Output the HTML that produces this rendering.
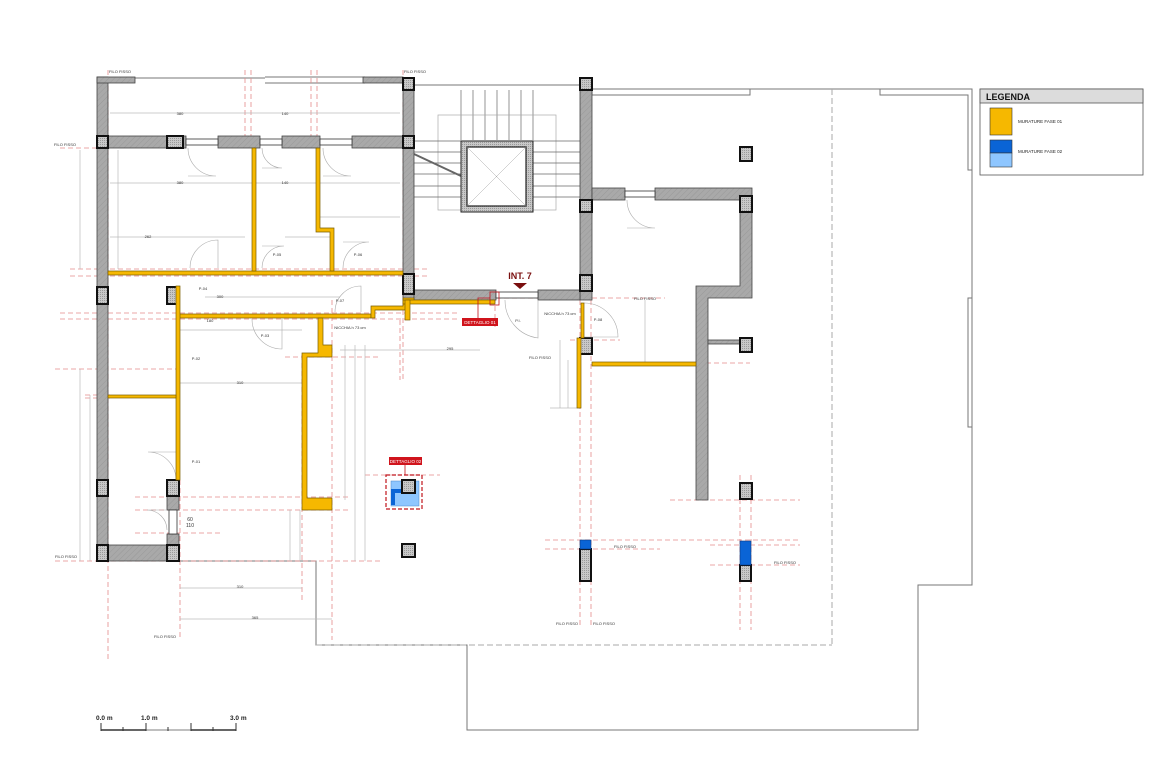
<!DOCTYPE html>
<html><head><meta charset="utf-8"><style>
html,body{margin:0;padding:0;background:#fff;}
svg{display:block;font-family:"Liberation Sans",sans-serif;}
</style></head><body>
<svg width="1166" height="768" viewBox="0 0 1166 768" xmlns="http://www.w3.org/2000/svg">
<defs>
<pattern id="h" width="4" height="4" patternUnits="userSpaceOnUse" patternTransform="rotate(45)"><rect width="4" height="4" fill="#a9a9a9"/><line x1="0" y1="0" x2="0" y2="4" stroke="#999" stroke-width="1"/></pattern>
<pattern id="p" width="2" height="2" patternUnits="userSpaceOnUse"><rect width="2" height="2" fill="#c8c8c8"/><rect width="1" height="1" fill="#9a9a9a"/></pattern>
</defs>

<!-- building outline -->
<g fill="none" stroke="#777" stroke-width="1">
<polyline points="590,89 972,89 972,585 918,585 918,730 467,730 467,645 316,645 316,561 180,561"/>
<polyline points="592,89 592,95 750,95 750,89"/>
<polyline points="880,89 880,95 968,95 968,170 972,170"/>
<polyline points="972,298 968,298 968,427 972,427"/>
<line x1="265" y1="77" x2="365" y2="77"/><line x1="265" y1="83" x2="365" y2="83"/>
<line x1="135" y1="78" x2="265" y2="78"/>
<line x1="414" y1="85" x2="580" y2="85"/>
</g>
<g fill="none" stroke="#aaa" stroke-width="1" stroke-dasharray="6,3">
<line x1="832" y1="89" x2="832" y2="645"/>
<line x1="316" y1="645" x2="832" y2="645"/>
</g>

<!-- red dashed construction lines -->
<g stroke="#e58a8a" stroke-width="0.8" stroke-dasharray="5,3" fill="none">
<line x1="108" y1="70" x2="108" y2="660"/>
<line x1="180" y1="480" x2="180" y2="640"/>
<line x1="245" y1="70" x2="245" y2="140"/><line x1="251" y1="70" x2="251" y2="140"/>
<line x1="311" y1="70" x2="311" y2="140"/><line x1="317" y1="70" x2="317" y2="140"/>
<line x1="403" y1="70" x2="403" y2="380"/>
<line x1="60" y1="148" x2="110" y2="148"/>
<line x1="70" y1="269" x2="430" y2="269"/><line x1="70" y1="276" x2="430" y2="276"/>
<line x1="60" y1="313" x2="460" y2="313"/><line x1="60" y1="319" x2="460" y2="319"/>
<line x1="55" y1="369" x2="180" y2="369"/>
<line x1="85" y1="395" x2="110" y2="395"/><line x1="85" y1="398" x2="110" y2="398"/>
<line x1="135" y1="497" x2="350" y2="497"/><line x1="135" y1="510" x2="350" y2="510"/><line x1="135" y1="533" x2="220" y2="533"/>
<line x1="55" y1="561" x2="380" y2="561"/>
<line x1="285" y1="357" x2="380" y2="357"/>
<line x1="302" y1="355" x2="302" y2="600"/>
<line x1="332" y1="300" x2="332" y2="640"/>
<line x1="400" y1="320" x2="400" y2="380"/>
<line x1="495" y1="290" x2="495" y2="330"/>
<line x1="480" y1="298" x2="665" y2="298"/>
<line x1="570" y1="340" x2="620" y2="340"/>
<line x1="580" y1="300" x2="580" y2="625"/><line x1="591" y1="300" x2="591" y2="625"/>
<line x1="545" y1="540" x2="800" y2="540"/><line x1="545" y1="549" x2="660" y2="549"/>
<line x1="710" y1="545" x2="800" y2="545"/><line x1="710" y1="565" x2="800" y2="565"/>
<line x1="740" y1="475" x2="740" y2="630"/><line x1="751" y1="475" x2="751" y2="630"/>
<line x1="670" y1="500" x2="800" y2="500"/>
<line x1="690" y1="363" x2="750" y2="363"/>
<line x1="365" y1="475" x2="440" y2="475"/>
</g>

<!-- thin gray dimension lines -->
<g stroke="#bbb" stroke-width="0.7" fill="none">
<line x1="110" y1="113" x2="400" y2="113"/>
<line x1="110" y1="183" x2="400" y2="183"/>
<line x1="110" y1="237" x2="245" y2="237"/>
<line x1="80" y1="150" x2="80" y2="269"/>
<line x1="80" y1="369" x2="80" y2="561"/>
<line x1="118" y1="150" x2="118" y2="269"/>
<line x1="90" y1="395" x2="90" y2="561"/>
<line x1="180" y1="330" x2="302" y2="330"/>
<line x1="180" y1="383" x2="302" y2="383"/>
<line x1="180" y1="588" x2="302" y2="588"/>
<line x1="180" y1="619" x2="332" y2="619"/>
<line x1="290" y1="510" x2="290" y2="561"/><line x1="300" y1="510" x2="300" y2="561"/>
<line x1="345" y1="345" x2="345" y2="500"/><line x1="355" y1="345" x2="355" y2="561"/><line x1="365" y1="345" x2="365" y2="561"/>
<line x1="340" y1="350" x2="480" y2="350"/>
<line x1="645" y1="300" x2="645" y2="362"/>
<line x1="560" y1="340" x2="560" y2="408"/><line x1="568" y1="360" x2="568" y2="408"/>
<line x1="550" y1="408" x2="580" y2="408"/>
<line x1="320" y1="217" x2="400" y2="217"/>
<line x1="285" y1="237" x2="330" y2="237"/>
<line x1="205" y1="297" x2="340" y2="297"/>
</g>

<!-- stairs -->
<g stroke="#666" stroke-width="0.7" fill="none">
<line x1="461" y1="90" x2="461" y2="140"/><line x1="473" y1="90" x2="473" y2="140"/><line x1="485" y1="90" x2="485" y2="140"/><line x1="497" y1="90" x2="497" y2="140"/><line x1="509" y1="90" x2="509" y2="140"/><line x1="521" y1="90" x2="521" y2="140"/><line x1="533" y1="90" x2="533" y2="140"/>
<rect x="438" y="115" width="118" height="95" stroke="#aaa"/>
<line x1="414" y1="141" x2="461" y2="141"/><line x1="414" y1="152" x2="461" y2="152"/><line x1="414" y1="163" x2="461" y2="163"/><line x1="414" y1="174" x2="461" y2="174"/><line x1="414" y1="186" x2="461" y2="186"/><line x1="414" y1="197" x2="461" y2="197"/>
<line x1="533" y1="141" x2="580" y2="141"/><line x1="533" y1="152" x2="580" y2="152"/><line x1="533" y1="163" x2="580" y2="163"/><line x1="533" y1="174" x2="580" y2="174"/><line x1="533" y1="186" x2="580" y2="186"/><line x1="533" y1="197" x2="580" y2="197"/>
<line x1="414" y1="154" x2="461" y2="176" stroke-width="2"/>
</g>
<rect x="461" y="141" width="72" height="71" fill="url(#p)" stroke="#222" stroke-width="1"/>
<rect x="467" y="147" width="59" height="59" fill="#fff" stroke="#222" stroke-width="1.2"/>
<line x1="467" y1="147" x2="526" y2="206" stroke="#aaa" stroke-width="0.5"/><line x1="526" y1="147" x2="467" y2="206" stroke="#aaa" stroke-width="0.5"/>

<!-- gray walls -->
<g fill="url(#h)" stroke="#444" stroke-width="0.8">
<rect x="97" y="77" width="11" height="484"/>
<rect x="97" y="77" width="38" height="6"/>
<rect x="363" y="77" width="40" height="6"/>
<rect x="108" y="136" width="78" height="12"/>
<rect x="218" y="136" width="42" height="12"/>
<rect x="282" y="136" width="38" height="12"/>
<rect x="352" y="136" width="51" height="12"/>
<rect x="403" y="78" width="11" height="222"/>
<rect x="580" y="78" width="12" height="222"/>
<rect x="414" y="290" width="82" height="10"/>
<rect x="538" y="290" width="42" height="10"/>
<rect x="592" y="188" width="33" height="12"/>
<rect x="655" y="188" width="97" height="12"/>
<polygon points="740,200 752,200 752,298 708,298 708,500 696,500 696,286 740,286"/>
<rect x="708" y="340" width="32" height="4"/>
<rect x="108" y="545" width="59" height="16"/>
<rect x="167" y="496" width="12" height="14"/>
<rect x="167" y="534" width="12" height="11"/>
</g>

<!-- pillars -->
<g fill="url(#p)" stroke="#111" stroke-width="2">
<rect x="97" y="136" width="11" height="12"/>
<rect x="167" y="136" width="16" height="12"/>
<rect x="403" y="78" width="11" height="12"/>
<rect x="403" y="136" width="11" height="12"/>
<rect x="403" y="274" width="11" height="20"/>
<rect x="97" y="287" width="11" height="17"/>
<rect x="167" y="287" width="12" height="17"/>
<rect x="97" y="480" width="11" height="16"/>
<rect x="167" y="480" width="12" height="16"/>
<rect x="97" y="545" width="11" height="16"/>
<rect x="167" y="545" width="12" height="16"/>
<rect x="580" y="78" width="12" height="12"/>
<rect x="580" y="200" width="12" height="12"/>
<rect x="580" y="275" width="12" height="16"/>
<rect x="740" y="147" width="12" height="14"/>
<rect x="740" y="196" width="12" height="16"/>
<rect x="740" y="338" width="12" height="14"/>
<rect x="740" y="483" width="12" height="16"/>
<rect x="580" y="338" width="12" height="16"/>
<rect x="402" y="544" width="13" height="13"/>
<rect x="580" y="549" width="11" height="32"/>
<rect x="740" y="565" width="11" height="16"/>
</g>

<!-- windows -->
<g fill="#fff" stroke="#333" stroke-width="0.8">
<rect x="186" y="139" width="32" height="6"/><rect x="260" y="139" width="22" height="6"/><rect x="320" y="139" width="32" height="6"/>
<rect x="625" y="191" width="30" height="6"/><rect x="496" y="292" width="42" height="6"/>
<rect x="169" y="510" width="8" height="24"/>
</g>
<!-- door arcs -->
<g fill="none" stroke="#aaa" stroke-width="0.6">
<path d="M188,148 A28,28 0 0 0 216,176 L188,176"/><path d="M262,148 A20,20 0 0 0 282,168 L262,168"/><path d="M323,148 A28,28 0 0 0 351,176 L323,176"/>
<path d="M190,268 A28,28 0 0 1 218,240 L218,268"/><path d="M262,268 A22,22 0 0 1 284,246 L262,246"/><path d="M343,268 A26,26 0 0 1 369,242 L343,242"/>
<path d="M252,319 A30,30 0 0 0 282,349 L282,319"/><path d="M335,312 A26,26 0 0 1 361,286 L361,312"/>
<path d="M176,480 A28,28 0 0 0 148,452 L176,452"/><path d="M167,530 A20,20 0 0 0 147,510 L167,510"/>
<path d="M505,300 A38,38 0 0 0 538,338 L538,300"/><path d="M584,303 A34,34 0 0 1 618,337 L584,337"/>
<path d="M627,200 A28,28 0 0 0 655,228 L627,228"/>
</g>

<!-- yellow walls -->
<g fill="#f6b800" stroke="#7a5c00" stroke-width="0.7">
<rect x="108" y="271" width="295" height="4"/>
<rect x="252" y="148" width="4" height="123"/>
<polygon points="316,148 320,148 320,228 334,228 334,271 330,271 330,232 316,232"/>
<rect x="178" y="314" width="193" height="4"/>
<polygon points="371,318 371,306 403,306 403,298 414,298 414,300 407,300 407,310 375,310 375,318"/>
<rect x="403" y="300" width="92" height="4"/>
<rect x="405" y="300" width="5" height="20"/>
<rect x="176" y="286" width="4" height="194"/>
<rect x="108" y="395" width="68" height="3"/>
<polygon points="318,318 323,318 323,345 332,345 332,357 307,357 307,498 332,498 332,510 302,510 302,353 318,353"/>
<rect x="592" y="362" width="104" height="4"/>
<rect x="577" y="338" width="4" height="70"/>
<rect x="581" y="303" width="3" height="35"/>
</g>

<!-- blue -->
<rect x="580" y="540" width="11" height="9" fill="#0a64d6" stroke="#0a3a80" stroke-width="0.6"/>
<rect x="740" y="541" width="11" height="24" fill="#0a64d6" stroke="#0a3a80" stroke-width="0.6"/>
<rect x="386" y="475" width="36" height="34" fill="none" stroke="#c0141c" stroke-width="1.2" stroke-dasharray="4,2"/>
<rect x="391" y="481" width="28" height="25" fill="#8ec6ff" stroke="#4a84c8" stroke-width="0.5"/>
<polygon points="391,489 402,489 402,493 395,493 395,505 391,505" fill="#0a64d6"/>
<rect x="402" y="480" width="13" height="13" fill="url(#p)" stroke="#111" stroke-width="2"/>
<line x1="405" y1="464" x2="405" y2="475" stroke="#c0141c" stroke-width="0.8"/>
<rect x="389" y="457" width="33" height="8" fill="#d0141c"/>
<text x="405.5" y="463" font-size="4.5" fill="#fff" text-anchor="middle">DETTAGLIO 02</text>

<!-- detail 01 -->
<rect x="490" y="292" width="9" height="13" fill="none" stroke="#c0141c" stroke-width="0.8"/>
<polyline points="490,298 478,298 478,318" fill="none" stroke="#c0141c" stroke-width="0.8"/>
<rect x="462" y="318" width="36" height="8" fill="#d0141c"/>
<text x="480" y="324" font-size="4.5" fill="#fff" text-anchor="middle">DETTAGLIO 01</text>

<!-- INT 7 -->
<text x="520" y="279" font-size="9" font-weight="bold" fill="#7a0f0f" text-anchor="middle">INT. 7</text>
<polygon points="513,283 527,283 520,289" fill="#7a0f0f"/>

<!-- small labels -->
<g font-size="4" fill="#333" text-anchor="middle">
<text x="120" y="73">FILO FISSO</text><text x="415" y="73">FILO FISSO</text>
<text x="65" y="146">FILO FISSO</text><text x="66" y="558">FILO FISSO</text>
<text x="165" y="638">FILO FISSO</text><text x="645" y="300">FILO FISSO</text>
<text x="540" y="359">FILO FISSO</text><text x="567" y="625">FILO FISSO</text><text x="604" y="625">FILO FISSO</text>
<text x="625" y="548">FILO FISSO</text><text x="785" y="564">FILO FISSO</text>
<text x="560" y="315">NICCHIA h 73 cm</text><text x="350" y="329">NICCHIA h 73 cm</text>
<text x="180" y="115">380</text><text x="285" y="115">140</text><text x="180" y="184">380</text><text x="285" y="184">140</text><text x="148" y="238">262</text>
<text x="240" y="588">310</text><text x="255" y="619">365</text><text x="240" y="384">310</text><text x="450" y="350">295</text><text x="220" y="298">300</text><text x="210" y="322">180</text>
<text x="277" y="256">P-05</text><text x="358" y="256">P-06</text><text x="203" y="290">P-04</text><text x="265" y="337">P-03</text><text x="340" y="302">P-07</text><text x="196" y="360">P-02</text><text x="196" y="463">P-01</text><text x="518" y="322">P.I.</text><text x="598" y="321">P-08</text>
</g>
<g font-size="5" fill="#333" text-anchor="middle">
<text x="190" y="521">60</text><text x="190" y="527">110</text>
</g>

<!-- legend -->
<rect x="980" y="89" width="163" height="86" fill="#fff" stroke="#555" stroke-width="0.8"/>
<rect x="980" y="89" width="163" height="14" fill="#dcdcdc" stroke="#555" stroke-width="0.8"/>
<text x="986" y="100" font-size="9" font-weight="bold" fill="#111">LEGENDA</text>
<rect x="990" y="108" width="22" height="27" fill="#f6b800" stroke="#333" stroke-width="0.6"/>
<text x="1018" y="123" font-size="4.5" fill="#222">MURATURE FASE 01</text>
<rect x="990" y="140" width="22" height="13" fill="#0a64d6" stroke="#333" stroke-width="0.6"/>
<rect x="990" y="153" width="22" height="14" fill="#8ec6ff" stroke="#333" stroke-width="0.6"/>
<text x="1018" y="153" font-size="4.5" fill="#222">MURATURE FASE 02</text>

<!-- scale bar -->
<g font-size="6.5" font-weight="bold" fill="#222">
<text x="96" y="720">0.0 m</text><text x="141" y="720">1.0 m</text><text x="230" y="720">3.0 m</text>
</g>
<line x1="101" y1="730" x2="146" y2="730" stroke="#333" stroke-width="1.5"/>
<line x1="146" y1="730" x2="191" y2="730" stroke="#aaa" stroke-width="1.5"/>
<line x1="191" y1="730" x2="236" y2="730" stroke="#333" stroke-width="1.5"/>
<g stroke="#333" stroke-width="1"><line x1="101" y1="723" x2="101" y2="731"/><line x1="146" y1="723" x2="146" y2="731"/><line x1="191" y1="723" x2="191" y2="731"/><line x1="236" y1="723" x2="236" y2="731"/><line x1="123" y1="727" x2="123" y2="731"/><line x1="168" y1="727" x2="168" y2="731"/><line x1="213" y1="727" x2="213" y2="731"/></g>
</svg>
</body></html>
